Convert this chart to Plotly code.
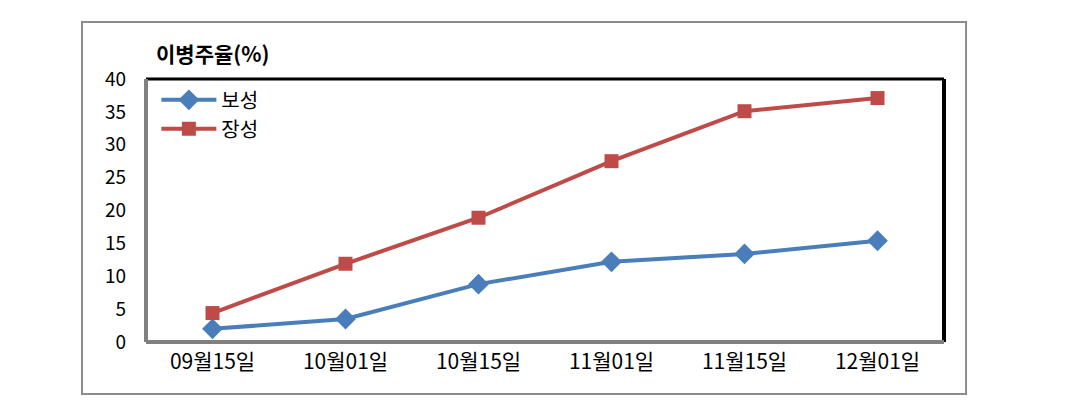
import plotly.graph_objects as go

dates = ["09월15일", "10월01일", "10월15일", "11월01일", "11월15일", "12월01일"]
boseong = [2.0, 3.5, 8.8, 12.2, 13.4, 15.4]
jangseong = [4.4, 11.9, 18.9, 27.5, 35.1, 37.1]
y_ticks = [0, 5, 10, 15, 20, 25, 30, 35, 40]

FONT = "Noto Sans CJK KR"
BLUE = "#4A7EBB"
RED = "#BE4B48"

fig = go.Figure()
fig.add_trace(go.Scatter(x=dates, y=boseong, name="보성", mode="lines+markers",
                         line=dict(color=BLUE, width=4),
                         marker=dict(symbol="diamond", size=16, color=BLUE)))
fig.add_trace(go.Scatter(x=dates, y=jangseong, name="장성", mode="lines+markers",
                         line=dict(color=RED, width=4),
                         marker=dict(symbol="square", size=14, color=RED)))

fig.update_layout(
    width=1067, height=401,
    margin=dict(l=146, r=123, t=79, b=59),
    paper_bgcolor="white", plot_bgcolor="white",
    font=dict(family=FONT, size=18, color="black"),
    showlegend=True,
    legend=dict(x=0.013, y=0.995, xanchor="left", yanchor="top",
                bgcolor="rgba(0,0,0,0)", font=dict(size=20), tracegroupgap=9,
                itemwidth=55),
    xaxis=dict(type="category", range=[-0.5, 5.5], showgrid=False, zeroline=False,
               showline=False, ticks="", tickfont=dict(size=21), ticklabelstandoff=5),
    yaxis=dict(range=[0, 40], tickvals=y_ticks, showgrid=False, zeroline=False,
               showline=False, ticks="", tickfont=dict(size=19), ticklabelstandoff=19),
    shapes=[
        # outer chart border
        dict(type="rect", xref="paper", yref="paper", x0=-0.0802, x1=1.0276,
             y0=-0.1977, y1=1.2167, line=dict(color="#8C8C8C", width=2)),
        # plot area border: black top/right, gray left/bottom
        dict(type="line", xref="paper", yref="paper", x0=0, x1=1, y0=1, y1=1,
             line=dict(color="black", width=3)),
        dict(type="line", xref="paper", yref="paper", x0=1, x1=1, y0=0, y1=1,
             line=dict(color="black", width=4)),
        dict(type="line", xref="paper", yref="paper", x0=0, x1=0, y0=0, y1=1,
             line=dict(color="#808080", width=4)),
        dict(type="line", xref="paper", yref="paper", x0=0, x1=1, y0=0, y1=0,
             line=dict(color="#808080", width=4)),
    ],
    annotations=[
        dict(text="<b>이병주율(%)</b>", xref="paper", yref="paper",
             x=0.01, y=1.1, xanchor="left", yanchor="middle", showarrow=False,
             font=dict(size=21, family=FONT)),
    ],
)

fig.write_html("out.html")
